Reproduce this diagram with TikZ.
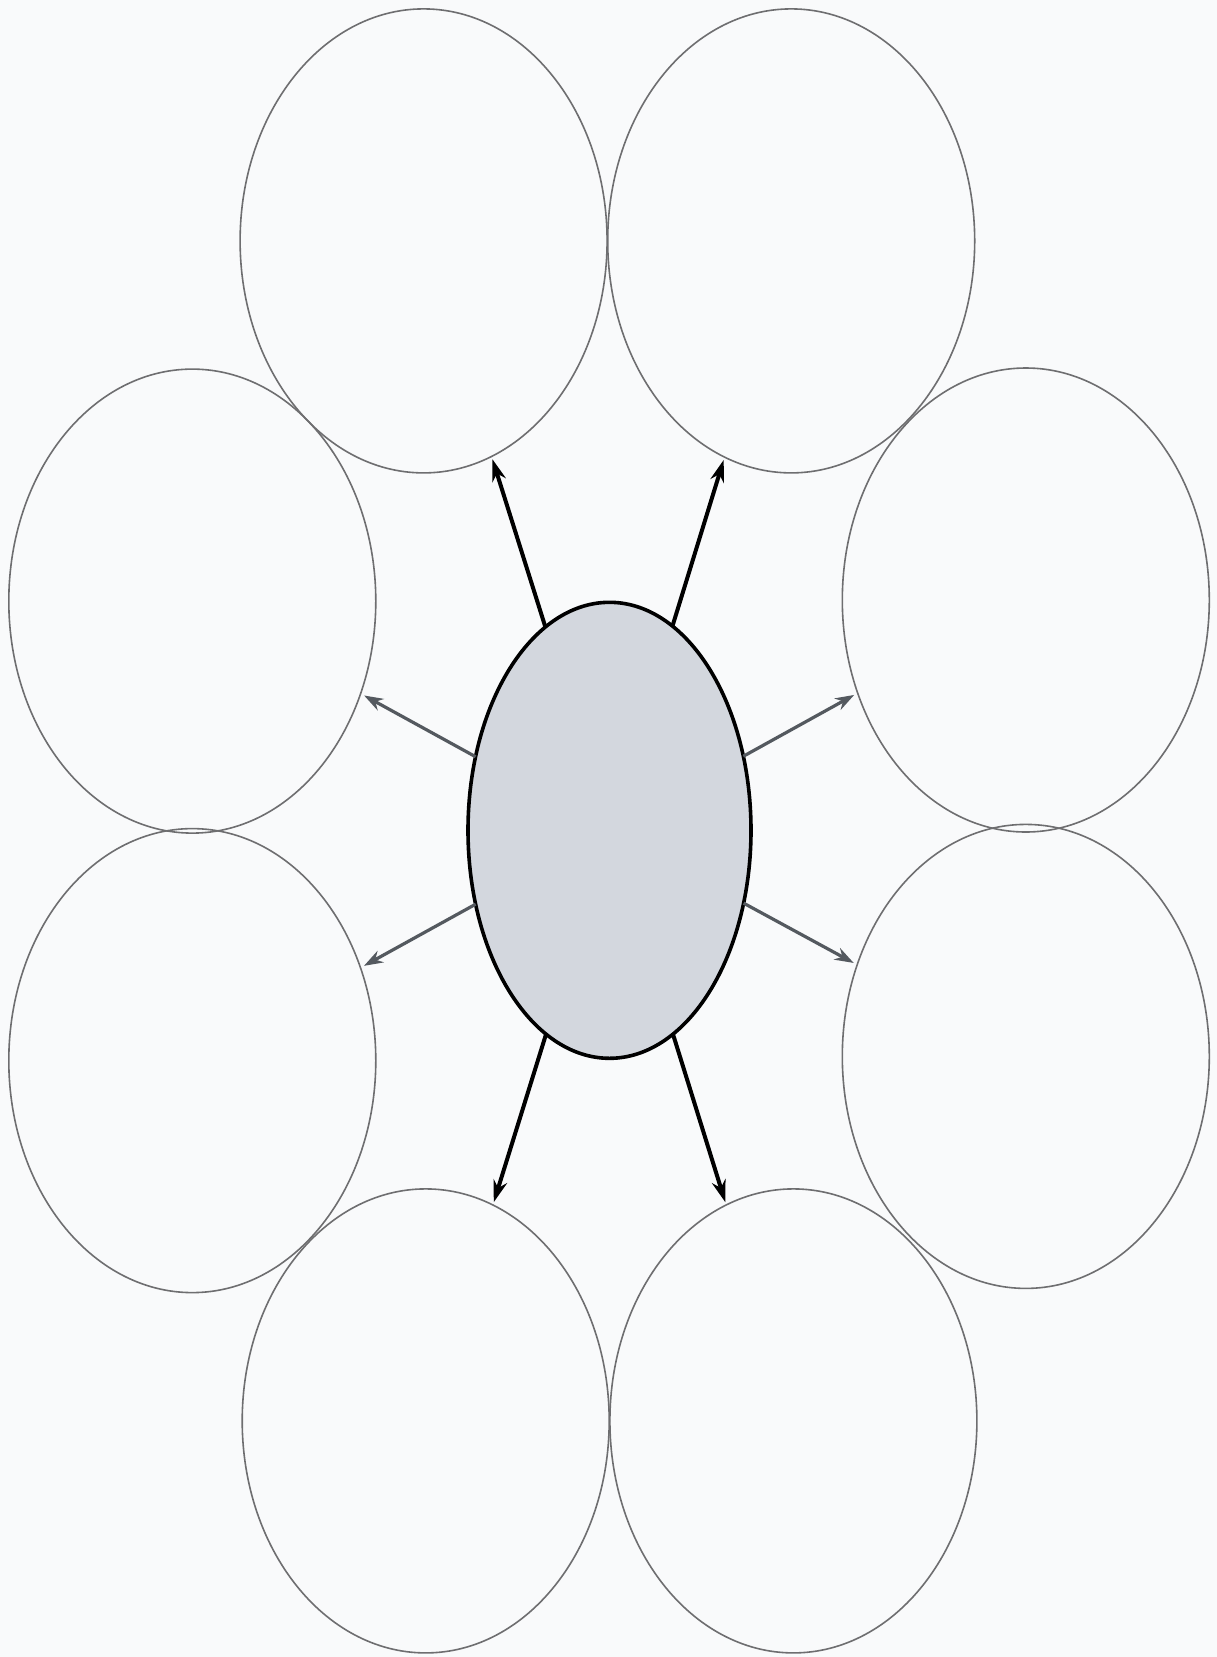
\documentclass[tikz,border=0pt]{standalone}
\usetikzlibrary{shapes.geometric,arrows.meta}
\definecolor{bgcol}{HTML}{F9FAFB}
\definecolor{rimcol}{HTML}{6E6E70}
\definecolor{hubfill}{HTML}{D3D7DE}
\definecolor{sidecol}{HTML}{54595F}
\tikzset{
  petal/.style={ellipse, draw=rimcol, line width=1.6pt, inner sep=0pt, outer sep=0pt,
    minimum width=367pt, minimum height=464pt},
  hub/.style={ellipse, draw=black, line width=3.6pt, fill=hubfill, inner sep=0pt, outer sep=0pt,
    minimum width=283pt, minimum height=456pt},
  mainarrow/.style={draw=black, line width=4pt, -{Stealth[length=22pt,width=14pt]}, shorten >=3pt},
  sidearrow/.style={draw=sidecol, line width=3.2pt, -{Stealth[length=19pt,width=13pt]}, shorten >=4pt}
}
\begin{document}
\begin{tikzpicture}[x=1pt,y=-1pt]
  \fill[bgcol] (0,0) rectangle (1217,1657);
  \useasboundingbox (0,0) rectangle (1217,1657);
  \node[petal] (tl) at (423.6,240.9) {};
  \node[petal] (tr) at (791.2,240.9) {};
  \node[petal] (ml) at (192.3,601.1) {};
  \node[petal] (mr) at (1025.8,600.0) {};
  \node[petal] (ll) at (192.3,1060.6) {};
  \node[petal] (lr) at (1025.8,1056.4) {};
  \node[petal] (bl) at (425.7,1420.9) {};
  \node[petal] (br) at (793.4,1420.9) {};
  \node[hub] (c) at (609.5,830.3) {};
  \draw[mainarrow] (c) -- (tl);
  \draw[mainarrow] (c) -- (tr);
  \draw[mainarrow] (c) -- (bl);
  \draw[mainarrow] (c) -- (br);
  \draw[sidearrow] (c) -- (ml);
  \draw[sidearrow] (c) -- (mr);
  \draw[sidearrow] (c) -- (ll);
  \draw[sidearrow] (c) -- (lr);
\end{tikzpicture}
\end{document}
